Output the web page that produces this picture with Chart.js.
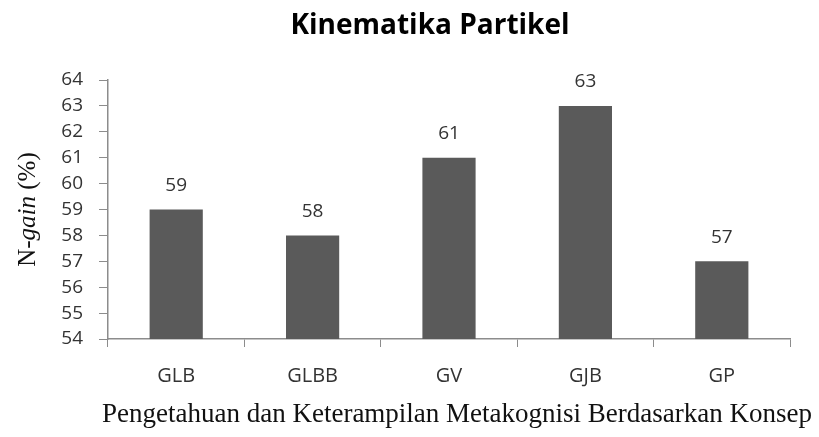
<!DOCTYPE html>
<html>
<head>
<meta charset="utf-8">
<script src="https://cdn.jsdelivr.net/npm/chart.js@4/dist/chart.umd.min.js"></script>
<style>
  html, body { margin: 0; padding: 0; background: #fff; }
  #wrap { width: 819px; height: 437px; }
</style>
</head>
<body>
<div id="wrap"><canvas id="chart"></canvas></div>
<script>
const categories = ['GLB', 'GLBB', 'GV', 'GJB', 'GP'];
const ngain = [59, 58, 61, 63, 57];
const yMin = 54;
const yMax = 64;

const chartTitle = 'Kinematika Partikel';
const xTitle = 'Pengetahuan dan Keterampilan Metakognisi Berdasarkan Konsep';

const AXIS = '#8c8c8c';
const TEXT = '#333333';
const SANS = '"Open Sans", Lato, sans-serif';
const SERIF = '"Liberation Serif", "DejaVu Serif", serif';

// value labels above bars
const barLabels = {
  id: 'barLabels',
  afterDatasetsDraw(chart) {
    const ctx = chart.ctx;
    const meta = chart.getDatasetMeta(0);
    ctx.save();
    ctx.font = '19px ' + SANS;
    ctx.fillStyle = TEXT;
    ctx.textAlign = 'center';
    ctx.textBaseline = 'middle';
    meta.data.forEach((bar, i) => {
      ctx.fillText(String(ngain[i]), bar.x, bar.y - 24);
    });
    ctx.restore();
  }
};

// titles: chart title, x title and y title with mixed upright / italic text
const titles = {
  id: 'titles',
  afterDraw(chart) {
    const ctx = chart.ctx;
    const area = chart.chartArea;
    ctx.save();
    ctx.textBaseline = 'middle';
    ctx.textAlign = 'center';

    ctx.fillStyle = '#000';
    ctx.font = 'bold 28px ' + SANS;
    ctx.fillText(chartTitle, 430, 26);

    ctx.fillStyle = '#111';
    ctx.font = '27px ' + SERIF;
    ctx.fillText(xTitle, 457, 415);

    const parts = [
      { t: 'N-', f: '25px ' + SERIF },
      { t: 'gain', f: 'italic 25px ' + SERIF },
      { t: ' (%)', f: '25px ' + SERIF }
    ];
    let total = 0;
    parts.forEach(p => { ctx.font = p.f; p.w = ctx.measureText(p.t).width; total += p.w; });
    ctx.translate(28, (area.top + area.bottom) / 2);
    ctx.rotate(-Math.PI / 2);
    ctx.textAlign = 'left';
    let x = -total / 2;
    parts.forEach(p => { ctx.font = p.f; ctx.fillText(p.t, x, 0); x += p.w; });
    ctx.restore();
  }
};

new Chart(document.getElementById('chart'), {
  type: 'bar',
  data: {
    labels: categories,
    datasets: [{
      data: ngain,
      backgroundColor: '#5a5a5a',
      borderWidth: 0,
      barPercentage: 0.78,
      categoryPercentage: 0.5
    }]
  },
  options: {
    responsive: true,
    maintainAspectRatio: false,
    animation: false,
    layout: { padding: { left: 0, right: 29, top: 80, bottom: 0 } },
    plugins: {
      legend: { display: false },
      tooltip: { enabled: false },
      title: { display: false }
    },
    scales: {
      x: {
        afterFit(scale) { scale.height = 98; },
        grid: {
          offset: true,
          drawOnChartArea: false,
          color: AXIS,
          tickLength: 8
        },
        border: { color: AXIS, width: 1.5 },
        ticks: { color: TEXT, font: { size: 20, family: SANS }, padding: 17 }
      },
      y: {
        min: yMin,
        max: yMax,
        afterFit(scale) { scale.width = 108; },
        grid: {
          drawOnChartArea: false,
          color: AXIS,
          tickLength: 9
        },
        border: { color: AXIS, width: 1.5 },
        ticks: { stepSize: 1, color: TEXT, font: { size: 19, family: SANS }, padding: 16 }
      }
    }
  },
  plugins: [barLabels, titles]
});
</script>
</body>
</html>
